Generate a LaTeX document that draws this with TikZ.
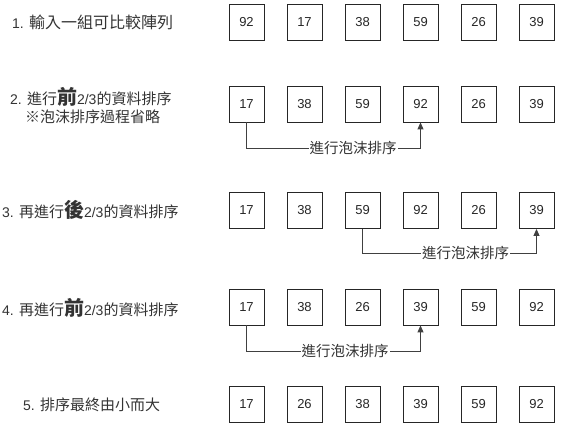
\documentclass[tikz,border=0pt]{standalone}
\usepackage{fontspec}
\setmainfont{Liberation Sans}
\newfontfamily\cjk{Noto Sans CJK TC}
\usetikzlibrary{arrows.meta}
\definecolor{txt}{HTML}{333333}
\tikzset{
  box/.style={draw=black!85, line width=0.9pt, minimum width=35pt, minimum height=36pt, inner sep=0pt,
    font=\fontsize{13}{15}\selectfont, text=black!85},
  lbl/.style={anchor=west, inner sep=0pt, text=txt, font=\fontsize{14}{16}\selectfont},
  conn/.style={draw=black!75, line width=0.9pt, -{Triangle[width=6pt,length=7pt]}},
  clbl/.style={fill=white, inner sep=1pt, text=txt, font=\cjk\fontsize{14.5}{16}\selectfont},
}
\newcommand{\bigch}[1]{{\cjk\bfseries\fontsize{20}{20}\selectfont #1}}
\newcommand{\cj}[1]{{\cjk\fontsize{15}{16}\selectfont #1}}
\begin{document}
\begin{tikzpicture}[x=1pt,y=-1pt]
\useasboundingbox (0,0) rectangle (563,435);
% left texts
\node[lbl] (t1) at (12,22) {1. {\cjk\fontsize{16}{16}\selectfont 輸入一組可比較陣列}};
\node[lbl] (t2) at (10,97) {2. \cj{進行}\bigch{前}2/3\cj{的資料排序}};
\node[lbl] (t2b) at (25,117) {\cj{※泡沫排序過程省略}};
\node[lbl] (t3) at (2,210) {3. \cj{再進行}\bigch{後}2/3\cj{的資料排序}};
\node[lbl] (t4) at (2,308) {4. \cj{再進行}\bigch{前}2/3\cj{的資料排序}};
\node[lbl] (t5) at (23,405) {5. \cj{排序最終由小而大}};
% rows
\foreach \r/\y/\vals in {1/22/{92,17,38,59,26,39}, 2/104/{17,38,59,92,26,39}, 3/210.5/{17,38,59,92,26,39}, 4/307/{17,38,26,39,59,92}, 5/404/{17,26,38,39,59,92}}{
  \foreach \v [count=\i] in \vals {
    \node[box] (r\r b\i) at ({246.5+58*(\i-1)},\y) {\v};
  }
}
% connectors
\draw[conn] (r2b1.south) -- ++(0,26) -| (r2b4.south);
\node[clbl] (c2) at (353,148) {進行泡沫排序};
\draw[conn] (r3b3.south) -- ++(0,25) -| (r3b6.south);
\node[clbl] (c3) at (465.5,253) {進行泡沫排序};
\draw[conn] (r4b1.south) -- ++(0,26) -| (r4b4.south);
\node[clbl] (c4) at (345,351) {進行泡沫排序};
\end{tikzpicture}
\end{document}
